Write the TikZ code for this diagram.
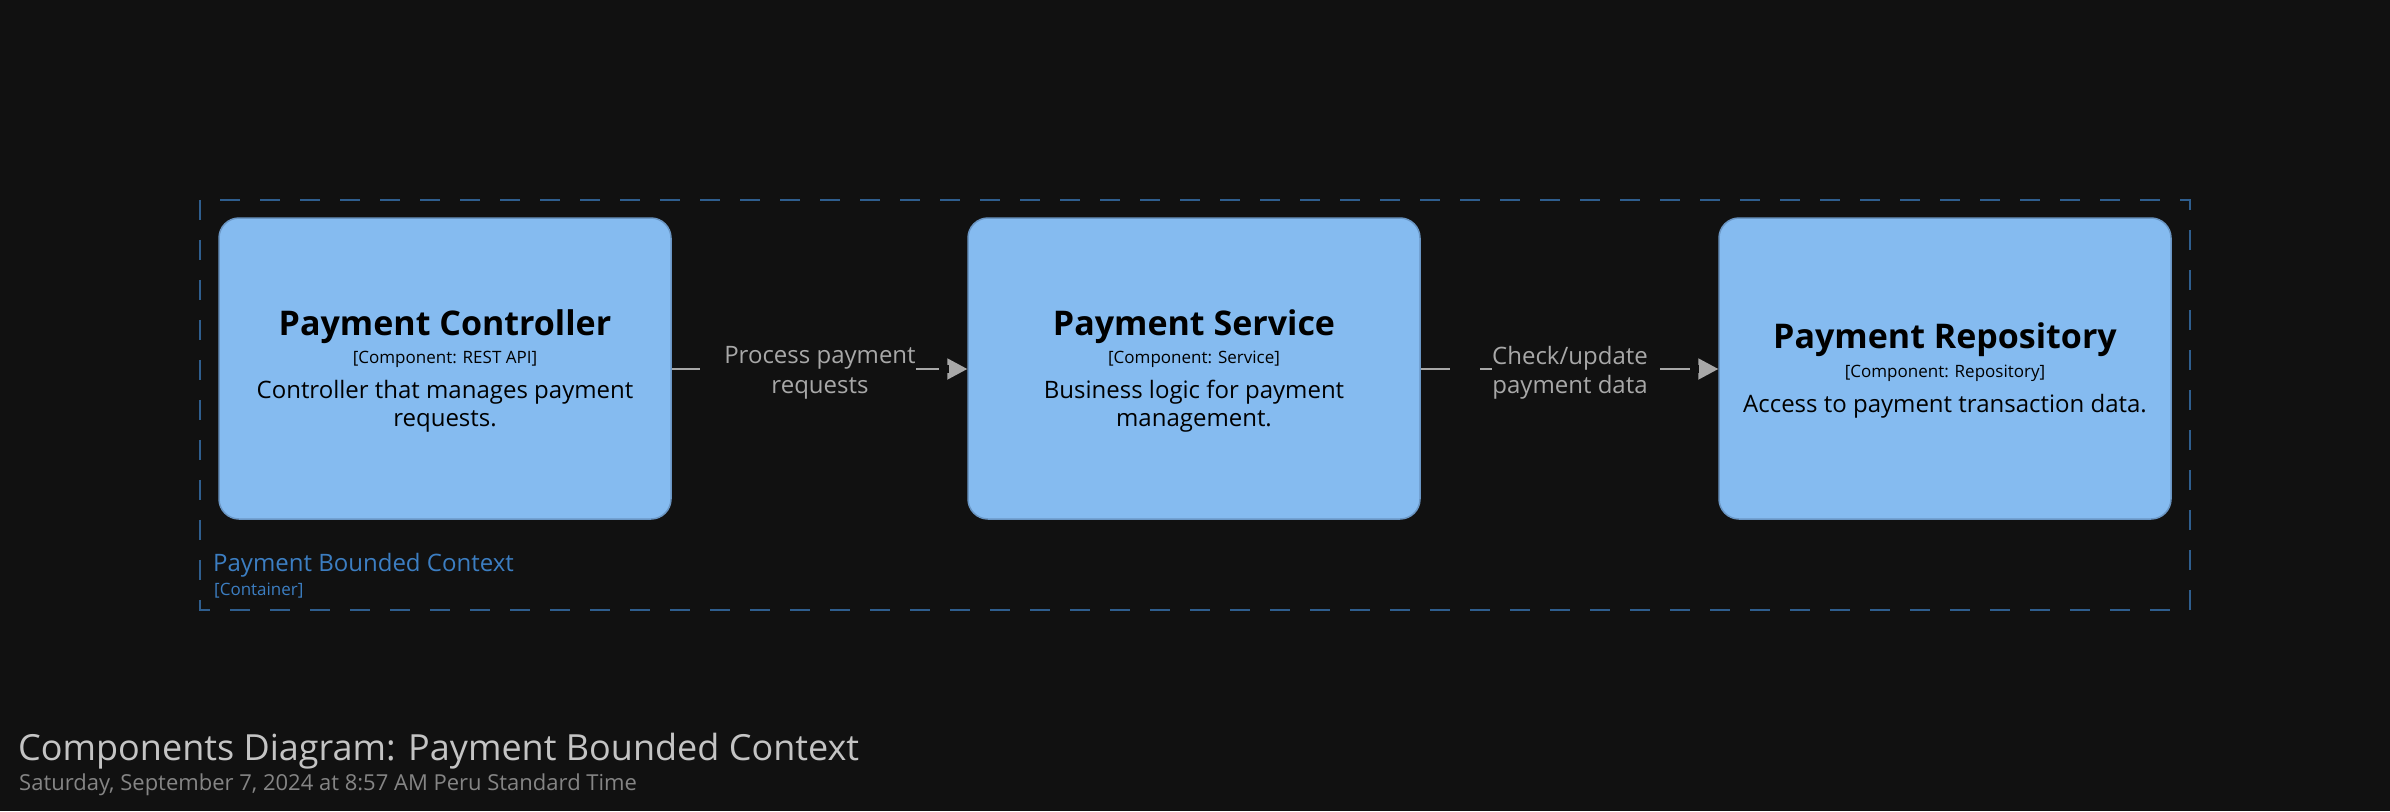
\documentclass[tikz,border=0pt]{standalone}
\usepackage{fontspec}
\setmainfont{Open Sans}
\usetikzlibrary{arrows.meta}
\definecolor{bgc}{HTML}{111111}
\definecolor{compfill}{HTML}{85BBF0}
\definecolor{compdraw}{HTML}{6A96C4}
\definecolor{bndc}{HTML}{2F5E8E}
\definecolor{bndtxt}{HTML}{3C7EC2}
\definecolor{relc}{HTML}{A8A8A8}
\definecolor{ftc}{HTML}{C4C4C4}
\definecolor{fsc}{HTML}{858585}
\tikzset{
  comp/.style={draw=compdraw, fill=compfill, line width=1.5pt, rounded corners=20pt,
    minimum width=452pt, minimum height=301pt, inner sep=0pt},
  ctitle/.style={anchor=base, inner sep=0pt, font=\fontsize{34}{41}\selectfont\bfseries, text=black},
  cmeta/.style={anchor=base, inner sep=0pt, font=\fontsize{17}{21}\selectfont, text=black},
  cdesc/.style={anchor=base, inner sep=0pt, font=\fontsize{24}{29}\selectfont, text=black},
  rel/.style={draw=relc, line width=2pt, -{Triangle[length=20pt,width=21pt]}},
  rellbl/.style={anchor=base, inner sep=0pt, font=\fontsize{24}{30}\selectfont, text=relc},
  mask/.style={fill=bgc, draw=none, inner sep=0pt, minimum height=8pt},
  bnd/.style={draw=bndc, line width=2pt, dash pattern=on 20pt off 20pt},
}
\begin{document}
\begin{tikzpicture}[x=1pt, y=-1pt]
\useasboundingbox (0,0) rectangle (2390,811);
\fill[bgc] (0,0) rectangle (2390,811);

% boundary
\draw[bnd] (200,200) rectangle (2190,610);
\node[anchor=base west, inner sep=0pt, font=\fontsize{24}{29}\selectfont, text=bndtxt] (bl) at (213,571) {Payment Bounded Context};
\node[anchor=base west, inner sep=0pt, font=\fontsize{17}{21}\selectfont, text=bndtxt] (bt) at (214,595) {[Container]};

% components
\node[comp] (c1) at (445,368.5) {};
\node[comp] (s2) at (1194,368.5) {};
\node[comp] (r3) at (1945,368.5) {};

\node[ctitle] (c1t) at (445,335) {Payment Controller};
\node[cmeta]  (c1m) at (445,363) {[Component: REST API]};
\node[cdesc]  (c1d) at (445,398) {Controller that manages payment};
\node[cdesc]  (c1e) at (445,426) {requests.};

\node[ctitle] (s2t) at (1194,335) {Payment Service};
\node[cmeta]  (s2m) at (1194,363) {[Component: Service]};
\node[cdesc]  (s2d) at (1194,398) {Business logic for payment};
\node[cdesc]  (s2e) at (1194,426) {management.};

\node[ctitle] (r3t) at (1945,348) {Payment Repository};
\node[cmeta]  (r3m) at (1945,377) {[Component: Repository]};
\node[cdesc]  (r3d) at (1945,412) {Access to payment transaction data.};

% relationships
\draw[rel] (c1.east |- 0,369) -- (s2.west |- 0,369);
\draw[rel] (s2.east |- 0,369) -- (r3.west |- 0,369);

% label backgrounds
\node[mask, minimum width=216pt] (m1) at (808,369) {};
\node[mask, minimum width=10pt] (m2) at (944,369) {};
\node[mask, minimum width=30pt] (m3) at (1465,369) {};
\node[mask, minimum width=168pt] (m4) at (1576,369) {};
\node[mask, minimum width=9pt] (m5) at (1694.5,369) {};

\node[rellbl] (l1a) at (820,363) {Process payment};
\node[rellbl] (l1b) at (820,393) {requests};
\node[rellbl] (l2a) at (1570,364) {Check/update};
\node[rellbl] (l2b) at (1570,393) {payment data};

% footer
\node[anchor=base west, inner sep=0pt, font=\fontsize{36}{43}\selectfont, text=ftc] (ft) at (18,760) {Components Diagram: Payment Bounded Context};
\node[anchor=base west, inner sep=0pt, font=\fontsize{22}{27}\selectfont, text=fsc] (fs) at (19,790) {Saturday, September 7, 2024 at 8:57 AM Peru Standard Time};
\end{tikzpicture}
\end{document}
